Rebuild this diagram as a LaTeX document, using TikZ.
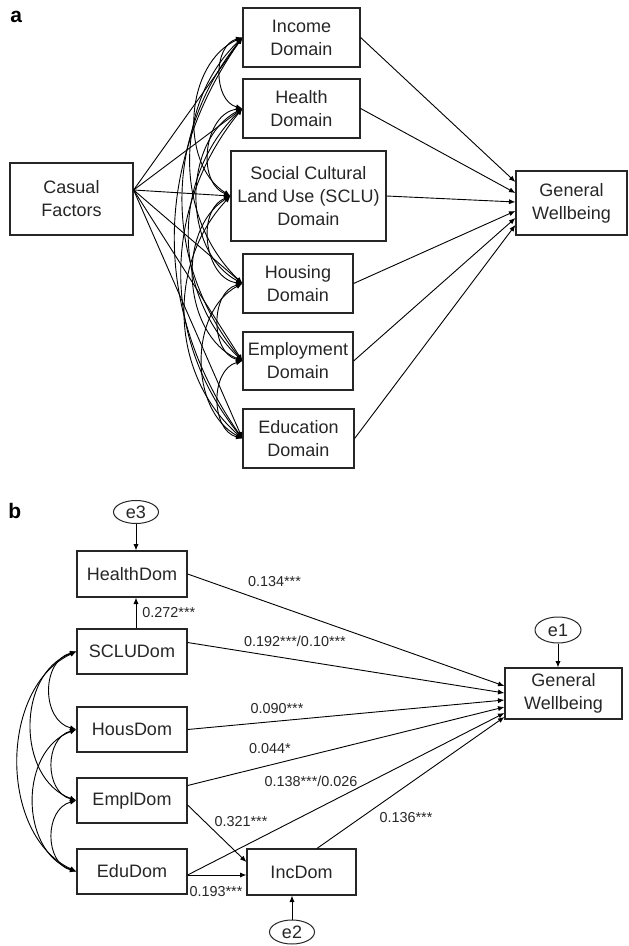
\documentclass[tikz,border=0pt]{standalone}
\usepackage{fontspec}
\setmainfont{Liberation Sans}
\usetikzlibrary{arrows.meta,calc,shapes.geometric}

\begin{document}
\begin{tikzpicture}[x=0.5pt,y=-0.5pt,
    >={Latex[length=3.2pt,width=2.6pt]},
    dombox/.style ={draw=black!85, line width=0.6pt, inner sep=0pt, align=center,
       text=black!85, font=\fontsize{9}{11.5}\selectfont},
    errterm/.style ={ellipse, draw=black!85, line width=0.5pt, inner sep=0pt,
       text=black!85, font=\fontsize{9}{11}\selectfont},
    coef/.style ={inner sep=0pt, text=black!85, font=\fontsize{7.2}{8}\selectfont},
    panellabel/.style ={inner sep=0pt, anchor=base west, font=\fontsize{10.5}{12}\selectfont\bfseries},
    regpath/.style ={->, line width=0.45pt},
    cov/.style ={<->, line width=0.45pt}]
   \useasboundingbox (0,0) rectangle (628,946);

   % panel a
   \node[panellabel] (pa) at (10,23) {a};
   \node[dombox, minimum width=61.5pt, minimum height=36pt] (casual) at (71.5,199) {Casual\\Factors};
   \node[dombox, minimum width=58.5pt, minimum height=29.5pt] (income) at (301.5,37.5) {Income\\Domain};
   \node[dombox, minimum width=58.5pt, minimum height=29.5pt] (health) at (301.5,108.5) {Health\\Domain};
   \node[dombox, minimum width=77.5pt, minimum height=45pt] (sclu) at (308.5,196) {Social Cultural\\Land Use (SCLU)\\Domain};
   \node[dombox, minimum width=55pt, minimum height=29.5pt] (housing) at (298,283.5) {Housing\\Domain};
   \node[dombox, minimum width=55pt, minimum height=29pt] (employ) at (298,361) {Employment\\Domain};
   \node[dombox, minimum width=55.5pt, minimum height=29.5pt] (educ) at (298.5,438.5) {Education\\Domain};
   \node[dombox, minimum width=55.5pt, minimum height=32pt] (gwa) at (571.5,203) {General\\Wellbeing};

   \coordinate (cf) at ($(casual.east)+(0,-9)$);
   \draw[regpath] (cf) -- (income.west);
   \draw[regpath] (cf) -- (health.west);
   \draw[regpath] (cf) -- (sclu.west);
   \draw[regpath] (cf) -- (housing.west);
   \draw[regpath] (cf) -- (employ.west);
   \draw[regpath] (cf) -- (educ.west);

   \draw[cov] (income.west) to[bend right=75, looseness=1.1] (health.west);
   \draw[cov] (health.west) to[bend right=75, looseness=1.1] (sclu.west);
   \draw[cov] (sclu.west) to[bend right=75, looseness=1.1] (housing.west);
   \draw[cov] (housing.west) to[bend right=75, looseness=1.1] (employ.west);
   \draw[cov] (employ.west) to[bend right=75, looseness=1.1] (educ.west);
   \draw[cov] (income.west) to[bend right=62] (sclu.west);
   \draw[cov] (health.west) to[bend right=62] (housing.west);
   \draw[cov] (sclu.west) to[bend right=62] (employ.west);
   \draw[cov] (housing.west) to[bend right=62] (educ.west);
   \draw[cov] (income.west) to[bend right=46] (housing.west);
   \draw[cov] (health.west) to[bend right=46] (employ.west);
   \draw[cov] (sclu.west) to[bend right=46] (educ.west);
   \draw[cov] (income.west) to[bend right=39] (employ.west);
   \draw[cov] (health.west) to[bend right=39] (educ.west);
   \draw[cov] (income.west) to[bend right=35] (educ.west);

   \draw[regpath] (income.east) -- ($(gwa.west)+(0,-21)$);
   \draw[regpath] (health.east) -- ($(gwa.west)+(0,-10)$);
   \draw[regpath] (sclu.east) -- ($(gwa.west)+(0,-1)$);
   \draw[regpath] (housing.east) -- ($(gwa.west)+(0,8)$);
   \draw[regpath] (employ.east) -- ($(gwa.west)+(0,15)$);
   \draw[regpath] (educ.east) -- ($(gwa.west)+(0,22)$);

   % panel b
   \node[panellabel] (pb) at (8,518) {b};
   \node[errterm, minimum width=22.5pt, minimum height=11.5pt] (e3) at (136,512) {e3};
   \node[dombox, minimum width=55pt, minimum height=23pt] (healthdom) at (132,574) {HealthDom};
   \node[dombox, minimum width=55pt, minimum height=22.5pt] (scludom) at (132,651.5) {SCLUDom};
   \node[dombox, minimum width=55pt, minimum height=22.5pt] (housdom) at (132,729.5) {HousDom};
   \node[dombox, minimum width=55pt, minimum height=22.5pt] (empldom) at (132,800.5) {EmplDom};
   \node[dombox, minimum width=55pt, minimum height=22.5pt] (edudom) at (132,871.5) {EduDom};
   \node[dombox, minimum width=54.5pt, minimum height=23pt] (incdom) at (301.5,872) {IncDom};
   \node[errterm, minimum width=22.5pt, minimum height=12pt] (e2) at (292,932) {e2};
   \node[dombox, minimum width=58.5pt, minimum height=25.5pt] (gwb) at (563.5,693.5) {General\\Wellbeing};
   \node[errterm, minimum width=23pt, minimum height=13pt] (e1) at (558,630) {e1};

   \draw[regpath] (e3.south) -- (e3.south |- healthdom.north);
   \draw[regpath] (e3.south |- scludom.north) -- (e3.south |- healthdom.south);
   \draw[regpath] (e1.south) -- (e1.south |- gwb.north);
   \draw[regpath] (e2.north) -- (e2.north |- incdom.south);

   \draw[cov] (scludom.west) to[bend right=75, looseness=1.2] (housdom.west);
   \draw[cov] (housdom.west) to[bend right=75, looseness=1.2] (empldom.west);
   \draw[cov] (empldom.west) to[bend right=75, looseness=1.2] (edudom.west);
   \draw[cov] (scludom.west) to[bend right=70, looseness=1.1] (empldom.west);
   \draw[cov] (housdom.west) to[bend right=70, looseness=1.1] (edudom.west);
   \draw[cov] (scludom.west) to[bend right=65] (edudom.west);

   \coordinate (sclux) at ($(scludom.east)+(0,-9)$);
   \coordinate (emplx) at ($(empldom.east)+(0,-15)$);
   \coordinate (emply) at ($(empldom.east)+(0,4.5)$);
   \coordinate (edux) at ($(edudom.east)+(0,3.5)$);
   \coordinate (incx) at ($(incdom.north)+(15.5,0)$);
   \draw[regpath] (healthdom.east) -- ($(gwb.west)+(0,-7.5)$);
   \draw[regpath] (sclux) -- ($(gwb.west)+(0,-0.5)$);
   \draw[regpath] (housdom.east) -- ($(gwb.west)+(0,6.5)$);
   \draw[regpath] (emplx) -- ($(gwb.west)+(0,13.5)$);
   \draw[regpath] (edux) -- ($(gwb.west)+(0,19.5)$);
   \draw[regpath] (incx) -- ($(gwb.west)+(0,23.5)$);
   \draw[regpath] (emply) -- ($(incdom.west)+(0,-10)$);
   \draw[regpath] (edux) -- ($(incdom.west)+(0,3)$);

   \node[coef, anchor=west] (l272) at (142,613) {0.272***};
   \node[coef] (l134) at (274.5,582) {0.134***};
   \node[coef] (l192) at (295,641) {0.192***/0.10***};
   \node[coef] (l090) at (277,709) {0.090***};
   \node[coef] (l044) at (270,749) {0.044*};
   \node[coef] (l138) at (311,781) {0.138***/0.026};
   \node[coef] (l321) at (241,822) {0.321***};
   \node[coef] (l193) at (216,892) {0.193***};
   \node[coef] (l136) at (406,818) {0.136***};
 \end{tikzpicture}
\end{document}
